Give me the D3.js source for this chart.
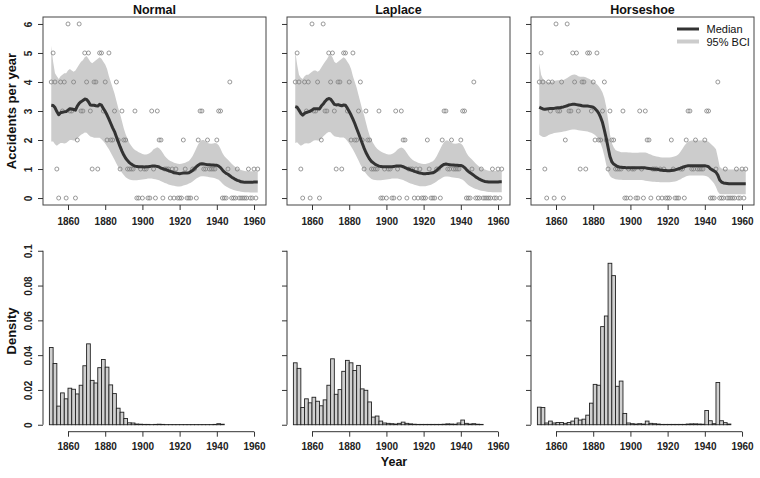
<!DOCTYPE html>
<html><head><meta charset="utf-8">
<script src="https://cdn.jsdelivr.net/npm/d3@7"></script>
<style>
body{margin:0;background:#fff}
svg{display:block}
text{font-family:"Liberation Sans",Arial,Helvetica,sans-serif}
</style>
</head><body>
<svg id="chart" width="760" height="478"></svg>
<script>
// ---------------- DATA ----------------
const firstYear = 1851, lastYear = 1962;
const accidents = [
 4,5,4,1,0,4,3,4,0,6,3,3,
 4,0,2,6,3,3,5,4,5,3,1,4,
 4,1,5,5,3,4,2,5,2,2,3,4,
 2,1,3,2,2,1,1,1,1,3,0,0,
 1,0,1,1,0,0,3,1,0,3,2,2,
 0,1,1,1,0,1,0,1,0,0,0,2,
 1,0,0,0,1,1,0,2,3,3,1,1,
 2,1,1,1,1,2,3,3,0,0,0,1,
 4,0,0,0,1,0,0,0,0,0,1,0,
 0,1,0,1];

const models = ["Normal","Laplace","Horseshoe"];

const normalMedian = [
 3.20,3.19,3.12,2.98,2.87,2.94,2.96,2.97,2.98,3.03,
 3.08,3.07,3.05,3.03,3.17,3.26,3.32,3.36,3.41,3.40,
 3.32,3.21,3.20,3.20,3.18,3.17,3.23,3.20,3.09,2.98,
 2.86,2.72,2.57,2.42,2.29,2.11,1.94,1.77,1.62,1.48,
 1.37,1.29,1.22,1.17,1.13,1.10,1.09,1.08,1.08,1.08,
 1.07,1.08,1.08,1.09,1.10,1.10,1.10,1.09,1.07,1.03,
 1.01,0.99,0.97,0.94,0.92,0.90,0.87,0.86,0.85,0.84,
 0.85,0.86,0.86,0.86,0.87,0.91,0.95,1.01,1.08,1.13,
 1.17,1.18,1.17,1.16,1.15,1.15,1.14,1.14,1.13,1.13,
 1.10,1.05,0.97,0.90,0.85,0.82,0.77,0.72,0.68,0.64,
 0.61,0.59,0.56,0.55,0.54,0.54,0.54,0.54,0.54,0.55,
 0.55,0.55];
const normalUpper = [
 5.25,4.70,4.30,4.20,4.10,4.20,4.25,4.30,4.30,4.40,
 4.45,4.40,4.35,4.40,4.50,4.60,4.70,4.75,4.85,4.90,
 4.80,4.70,4.65,4.70,4.75,4.80,4.85,4.80,4.70,4.60,
 4.45,4.20,4.00,3.80,3.60,3.35,3.10,2.90,2.65,2.40,
 2.20,2.05,1.90,1.80,1.72,1.66,1.62,1.58,1.55,1.52,
 1.50,1.50,1.52,1.55,1.60,1.68,1.72,1.75,1.72,1.65,
 1.55,1.45,1.38,1.32,1.28,1.25,1.22,1.20,1.18,1.17,
 1.18,1.20,1.22,1.25,1.28,1.35,1.45,1.58,1.72,1.85,
 1.95,2.00,2.00,1.95,1.90,1.88,1.87,1.88,1.90,1.88,
 1.82,1.70,1.55,1.45,1.38,1.32,1.25,1.18,1.12,1.07,
 1.03,1.00,0.97,0.95,0.93,0.92,0.92,0.92,0.92,0.92,
 0.92,0.92];
const normalLower = [
 1.95,1.95,1.85,1.80,1.85,1.90,1.90,1.88,1.90,1.95,
 2.00,2.00,1.98,1.98,2.05,2.12,2.18,2.22,2.26,2.25,
 2.18,2.12,2.10,2.08,2.08,2.08,2.08,2.03,1.96,1.88,
 1.78,1.68,1.56,1.44,1.32,1.19,1.07,0.97,0.87,0.79,
 0.72,0.67,0.64,0.62,0.61,0.61,0.61,0.62,0.63,0.64,
 0.65,0.66,0.67,0.67,0.67,0.66,0.65,0.63,0.61,0.58,
 0.55,0.52,0.50,0.47,0.45,0.43,0.42,0.41,0.40,0.40,
 0.41,0.43,0.45,0.47,0.50,0.53,0.57,0.62,0.67,0.71,
 0.74,0.75,0.75,0.74,0.73,0.72,0.71,0.70,0.68,0.66,
 0.63,0.57,0.50,0.44,0.40,0.36,0.33,0.30,0.28,0.26,
 0.24,0.23,0.22,0.21,0.20,0.20,0.20,0.19,0.19,0.19,
 0.19,0.19];

const laplaceMedian = [
 3.15,3.13,3.03,2.92,2.86,2.92,2.95,2.97,2.99,3.03,
 3.08,3.08,3.08,3.07,3.17,3.24,3.33,3.40,3.43,3.41,
 3.32,3.23,3.21,3.22,3.20,3.18,3.21,3.20,3.10,2.98,
 2.86,2.72,2.57,2.40,2.23,2.06,1.89,1.72,1.57,1.45,
 1.34,1.26,1.21,1.16,1.13,1.10,1.09,1.08,1.08,1.08,
 1.08,1.08,1.08,1.09,1.10,1.10,1.10,1.10,1.08,1.05,
 1.02,1.00,0.97,0.95,0.92,0.90,0.88,0.86,0.85,0.84,
 0.84,0.85,0.85,0.86,0.87,0.90,0.95,1.01,1.07,1.12,
 1.16,1.17,1.16,1.15,1.14,1.14,1.13,1.13,1.12,1.12,
 1.10,1.05,0.98,0.92,0.87,0.83,0.78,0.73,0.69,0.65,
 0.62,0.59,0.57,0.56,0.55,0.55,0.55,0.55,0.55,0.55,
 0.56,0.56];
const laplaceUpper = [
 5.05,4.60,4.25,4.15,4.10,4.20,4.25,4.25,4.30,4.35,
 4.40,4.40,4.35,4.40,4.50,4.60,4.70,4.78,4.90,4.95,
 4.85,4.70,4.65,4.70,4.75,4.80,4.85,4.80,4.70,4.60,
 4.45,4.20,4.00,3.80,3.55,3.30,3.05,2.85,2.60,2.35,
 2.15,2.00,1.88,1.78,1.70,1.65,1.60,1.57,1.54,1.52,
 1.50,1.50,1.52,1.55,1.60,1.67,1.72,1.74,1.72,1.65,
 1.55,1.46,1.38,1.32,1.28,1.25,1.22,1.20,1.18,1.17,
 1.17,1.19,1.21,1.24,1.27,1.34,1.44,1.57,1.70,1.83,
 1.93,1.98,1.98,1.94,1.90,1.88,1.87,1.88,1.90,1.88,
 1.82,1.70,1.56,1.46,1.39,1.33,1.26,1.19,1.13,1.08,
 1.04,1.01,0.98,0.96,0.94,0.93,0.93,0.93,0.93,0.93,
 0.93,0.93];
const laplaceLower = [
 1.90,1.92,1.85,1.80,1.84,1.88,1.89,1.88,1.90,1.94,
 1.98,1.99,1.98,1.98,2.04,2.12,2.18,2.24,2.28,2.27,
 2.19,2.13,2.11,2.10,2.09,2.09,2.09,2.04,1.97,1.88,
 1.78,1.67,1.55,1.42,1.29,1.16,1.04,0.94,0.85,0.77,
 0.71,0.66,0.63,0.62,0.61,0.61,0.61,0.62,0.63,0.64,
 0.65,0.66,0.67,0.67,0.67,0.67,0.66,0.64,0.62,0.59,
 0.56,0.53,0.50,0.48,0.46,0.44,0.42,0.41,0.41,0.41,
 0.41,0.42,0.44,0.46,0.49,0.53,0.57,0.62,0.66,0.70,
 0.73,0.74,0.74,0.73,0.72,0.71,0.70,0.69,0.68,0.66,
 0.63,0.58,0.51,0.45,0.41,0.37,0.34,0.31,0.29,0.27,
 0.25,0.24,0.23,0.22,0.21,0.21,0.20,0.20,0.20,0.20,
 0.20,0.20];

const horseshoeMedian = [
 3.13,3.10,3.07,3.06,3.07,3.08,3.09,3.09,3.09,3.10,
 3.11,3.11,3.13,3.14,3.16,3.18,3.21,3.22,3.23,3.23,
 3.22,3.21,3.20,3.18,3.17,3.17,3.17,3.16,3.15,3.13,
 3.08,3.01,2.92,2.78,2.60,2.34,2.06,1.74,1.43,1.25,
 1.17,1.13,1.09,1.07,1.06,1.05,1.05,1.04,1.04,1.04,
 1.04,1.04,1.04,1.04,1.04,1.04,1.04,1.04,1.03,1.02,
 1.01,1.00,0.99,0.99,0.98,0.97,0.96,0.95,0.95,0.94,
 0.94,0.95,0.96,0.97,0.99,1.01,1.03,1.06,1.08,1.10,
 1.11,1.11,1.11,1.11,1.11,1.11,1.11,1.11,1.11,1.11,
 1.10,1.08,1.01,0.97,0.93,0.89,0.79,0.62,0.55,0.52,
 0.51,0.50,0.49,0.49,0.49,0.49,0.49,0.49,0.49,0.49,
 0.49,0.49];
const horseshoeUpper = [
 4.65,4.25,4.10,4.05,4.00,4.00,4.00,4.02,4.03,4.05,
 4.06,4.06,4.06,4.07,4.10,4.14,4.18,4.22,4.25,4.26,
 4.24,4.20,4.18,4.18,4.18,4.16,4.13,4.10,4.06,4.02,
 3.97,3.92,3.85,3.76,3.64,3.45,3.15,2.70,2.20,1.90,
 1.75,1.66,1.62,1.60,1.58,1.58,1.58,1.58,1.57,1.57,
 1.56,1.56,1.56,1.56,1.57,1.57,1.57,1.57,1.55,1.52,
 1.50,1.47,1.45,1.43,1.42,1.41,1.40,1.40,1.40,1.40,
 1.40,1.41,1.42,1.44,1.47,1.52,1.60,1.70,1.80,1.88,
 1.94,1.97,1.98,1.98,1.98,1.98,1.98,1.98,1.98,1.98,
 1.97,1.94,1.88,1.82,1.76,1.68,1.40,1.08,1.02,1.00,
 0.99,0.98,0.98,0.98,0.98,0.98,0.98,0.98,0.98,0.98,
 0.98,0.98];
const horseshoeLower = [
 2.18,2.14,2.10,2.10,2.13,2.17,2.20,2.22,2.24,2.25,
 2.26,2.27,2.28,2.29,2.30,2.32,2.34,2.35,2.36,2.36,
 2.35,2.34,2.33,2.32,2.31,2.30,2.29,2.27,2.25,2.22,
 2.17,2.10,2.00,1.88,1.70,1.45,1.15,0.90,0.76,0.70,
 0.67,0.65,0.64,0.63,0.63,0.62,0.62,0.62,0.62,0.62,
 0.62,0.62,0.62,0.62,0.62,0.62,0.61,0.60,0.59,0.58,
 0.57,0.56,0.56,0.55,0.55,0.54,0.54,0.54,0.54,0.54,
 0.54,0.55,0.56,0.57,0.59,0.62,0.65,0.69,0.72,0.75,
 0.77,0.78,0.78,0.78,0.78,0.78,0.78,0.78,0.78,0.77,
 0.75,0.72,0.65,0.58,0.50,0.38,0.22,0.14,0.13,0.13,
 0.13,0.13,0.13,0.13,0.13,0.13,0.13,0.13,0.13,0.13,
 0.13,0.13];

// change-point posterior histograms: 2-year bins starting 1850
const histStart = 1850, binWidth = 2;
const normalDensity = [
 .0444,.0352,.0107,.0183,.0149,.0210,.0204,.0177,.0227,.0339,
 .0465,.0255,.0240,.0328,.0375,.0331,.0229,.0179,.0095,.0072,
 .0036,.0011,.0010,.0004,.0003,.0002,.0002,.0001,.0002,.0003,
 .0002,.0001,.0001,.0001,.0001,.0001,.0001,.0001,.0001,.0001,
 .0001,.0001,.0001,.0001,.0002,.0006,.0003];
const laplaceDensity = [
 .0356,.0324,.0099,.0149,.0126,.0158,.0135,.0109,.0143,.0227,
 .0379,.0175,.0202,.0307,.0370,.0356,.0312,.0341,.0206,.0198,
 .0131,.0044,.0050,.0021,.0010,.0008,.0006,.0004,.0008,.0015,
 .0008,.0005,.0003,.0002,.0002,.0002,.0002,.0002,.0002,.0002,
 .0003,.0005,.0004,.0003,.0010,.0027,.0008,.0004,.0006,.0003,
 .0002];
const horseshoeDensity = [
 .0101,.0099,.0010,.0021,.0010,.0013,.0013,.0008,.0013,.0021,
 .0038,.0027,.0032,.0055,.0124,.0232,.0227,.0564,.0625,.0928,
 .0857,.0221,.0251,.0065,.0010,.0006,.0004,.0006,.0004,.0021,
 .0008,.0006,.0004,.0002,.0002,.0002,.0002,.0002,.0002,.0002,
 .0004,.0005,.0005,.0004,.0003,.0082,.0023,.0006,.0243,.0023,
 .0012,.0004];

const xTicks = [1860,1880,1900,1920,1940,1960];
const yTicksTop = [0,1,2,3,4,5,6];
const yTicksDensity = [0,0.02,0.04,0.06,0.08,0.1];
const yTickLabelsDensity = ["0","0.02","0.04","0.06","0.08","0.1"];
const legendLabels = ["Median","95% BCI"];

// ---------------- DRAW ----------------
const medians = [normalMedian, laplaceMedian, horseshoeMedian];
const uppers = [normalUpper, laplaceUpper, horseshoeUpper];
const lowers = [normalLower, laplaceLower, horseshoeLower];
const densities = [normalDensity, laplaceDensity, horseshoeDensity];

const svg = d3.select("#chart");
const panelStep = 244;
const xPad = (lastYear - firstYear) * 0.04;
const topY = d3.scaleLinear().domain([-0.24, 6.24]).range([205, 17]);
const botY = d3.scaleLinear().domain([-0.004, 0.104]).range([431.7, 243.8]);

const tickColor = "#333";
function styleAxis(g){
  g.select(".domain").remove();
  g.selectAll(".tick line").attr("stroke", tickColor);
  g.selectAll(".tick text").attr("fill","#222").style("font-size","10px").style("font-weight","bold");
}

models.forEach((name, i) => {
  const off = i * panelStep;
  const x = d3.scaleLinear().domain([firstYear - xPad, lastYear + xPad]).range([43 + off, 266 + off]);
  const rows = accidents.map((v, k) => ({year: firstYear + k, count: v,
      med: medians[i][k], lo: lowers[i][k], hi: uppers[i][k]}));

  const g = svg.append("g");
  g.append("path").datum(rows)
    .attr("d", d3.area().x(d => x(d.year)).y0(d => topY(d.lo)).y1(d => topY(d.hi)))
    .attr("fill", "#cccccc");
  g.selectAll("circle.pt").data(rows).join("circle").attr("class","pt")
    .attr("cx", d => x(d.year)).attr("cy", d => topY(d.count)).attr("r", 2)
    .attr("fill","none").attr("stroke","#808080").attr("stroke-width",0.8);
  g.append("path").datum(rows)
    .attr("d", d3.line().x(d => x(d.year)).y(d => topY(d.med)))
    .attr("fill","none").attr("stroke","#333333").attr("stroke-width",3)
    .attr("stroke-linejoin","round").attr("stroke-linecap","butt");
  const [x0, x1] = x.range(), [y0, y1] = topY.range();
  g.append("rect").attr("x", x0).attr("y", y1).attr("width", x1 - x0).attr("height", y0 - y1)
    .attr("fill","none").attr("stroke","#444").attr("stroke-width",1);
  const ya = g.append("g").attr("transform", `translate(${x0},0)`)
    .call(d3.axisLeft(topY).tickValues(yTicksTop).tickSize(5).tickFormat(i === 0 ? d3.format("d") : () => ""));
  styleAxis(ya);
  ya.selectAll(".tick text").attr("transform","rotate(-90)").attr("x",0).attr("y",-11).attr("dy","0")
    .attr("text-anchor","middle");
  const xa = g.append("g").attr("transform", `translate(0,${y0})`)
    .call(d3.axisBottom(x).tickValues(xTicks).tickSize(5).tickPadding(8).tickFormat(d3.format("d")));
  styleAxis(xa);
  g.append("text").attr("x", (x0 + x1) / 2).attr("y", 13.5).attr("text-anchor","middle")
    .style("font-size","12.5px").style("font-weight","bold").attr("fill","#111").text(name);

  // ---- histogram ----
  const bins = densities[i].map((dv, k) => ({start: histStart + k * binWidth, d: dv}));
  const h = svg.append("g");
  h.selectAll("rect").data(bins).join("rect")
    .attr("x", d => x(d.start)).attr("width", d => x(d.start + binWidth) - x(d.start))
    .attr("y", d => botY(d.d)).attr("height", d => botY(0) - botY(d.d))
    .attr("fill","#d0d0d0").attr("stroke","#222").attr("stroke-width",0.9);
  const yb = h.append("g").attr("transform", `translate(${x0},0)`)
    .call(d3.axisLeft(botY).tickValues(yTicksDensity).tickSize(5)
      .tickFormat((d, k) => i === 0 ? yTickLabelsDensity[k] : ""));
  styleAxis(yb);
  yb.selectAll(".tick text").attr("transform","rotate(-90)").attr("x",0).attr("y",-11).attr("dy","0")
    .attr("text-anchor","middle");
  yb.append("line").attr("x1",0).attr("x2",0).attr("y1",botY(0)).attr("y2",botY(0.1))
    .attr("stroke",tickColor);
  const xb = h.append("g").attr("transform", `translate(0,${botY.range()[0]})`)
    .call(d3.axisBottom(x).tickValues(xTicks).tickSize(5).tickPadding(6).tickFormat(d3.format("d")));
  styleAxis(xb);
  xb.append("line").attr("x1", x(xTicks[0])).attr("x2", x(xTicks[xTicks.length-1]))
    .attr("y1",0).attr("y2",0).attr("stroke",tickColor);

  if (i === 2) {
    const lg = svg.append("g");
    const items = [{label: legendLabels[0], color:"#333333", w:3, y:29},
                   {label: legendLabels[1], color:"#cccccc", w:4, y:41.5}];
    items.forEach(it => {
      lg.append("line").attr("x1",677).attr("x2",699).attr("y1",it.y).attr("y2",it.y)
        .attr("stroke",it.color).attr("stroke-width",it.w);
      lg.append("text").attr("x",706.5).attr("y",it.y + 4).style("font-size","11px")
        .attr("fill","#111").text(it.label);
    });
  }
});

svg.append("text").attr("transform","translate(15.5,111) rotate(-90)").attr("text-anchor","middle")
  .style("font-size","13px").style("font-weight","bold").attr("fill","#111").text("Accidents per year");
svg.append("text").attr("transform","translate(15.5,331) rotate(-90)").attr("text-anchor","middle")
  .style("font-size","13px").style("font-weight","bold").attr("fill","#111").text("Density");
svg.append("text").attr("x",394).attr("y",466).attr("text-anchor","middle")
  .style("font-size","12.5px").style("font-weight","bold").attr("fill","#111").text("Year");
</script>
</body></html>
